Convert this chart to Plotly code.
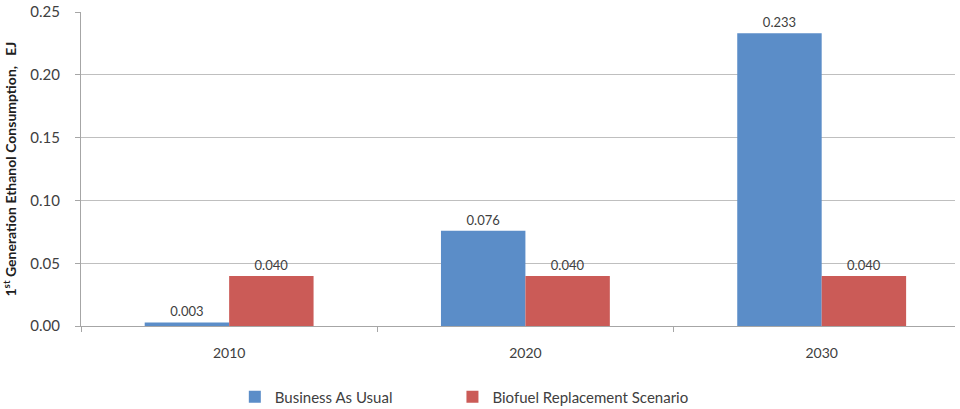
import plotly.graph_objects as go

years = ["2010", "2020", "2030"]
business_as_usual = [0.003, 0.076, 0.233]
biofuel_replacement = [0.040, 0.040, 0.040]
y_ticks = [0.0, 0.05, 0.10, 0.15, 0.20, 0.25]
y_tick_labels = ["0.00", "0.05", "0.10", "0.15", "0.20", "0.25"]

FONT = "Lato"
TEXT = "#404040"

fig = go.Figure()
fig.add_trace(go.Bar(
    name="Business As Usual", x=years, y=business_as_usual,
    marker=dict(color="#5B8DC8", line=dict(width=0)),
    text=[f"{v:.3f}" for v in business_as_usual], textposition="outside",
    textfont=dict(family=FONT, size=13, color=TEXT), cliponaxis=False,
    legend="legend", showlegend=True,
))
fig.add_trace(go.Bar(
    name="Biofuel Replacement Scenario", x=years, y=biofuel_replacement,
    marker=dict(color="#CB5B57", line=dict(width=0)),
    text=[f"{v:.3f}" for v in biofuel_replacement], textposition="outside",
    textfont=dict(family=FONT, size=13, color=TEXT), cliponaxis=False,
    legend="legend2", showlegend=True,
))

# legends are placed against the whole figure, along its bottom edge
legend_style = dict(
    orientation="h", xanchor="left", yref="container", y=12 / 409, yanchor="middle",
    font=dict(family=FONT, size=15, color=TEXT), itemwidth=30,
    bgcolor="rgba(0,0,0,0)", visible=True,
)

fig.update_layout(
    width=960, height=409,
    margin=dict(l=81, r=5, t=12, b=0),
    paper_bgcolor="white", plot_bgcolor="white",
    showlegend=True,
    barmode="group", bargap=0.43, bargroupgap=0,
    font=dict(family=FONT, size=14, color=TEXT),
    legend=dict(x=0.176, **legend_style),
    legend2=dict(x=0.425, **legend_style),
    xaxis=dict(
        type="category", range=[-0.5, 2.45],
        showline=True, linecolor="#a6a6a6", linewidth=1,
        ticks="outside", tickson="boundaries", ticklen=5, tickcolor="#a6a6a6",
        tickfont=dict(family=FONT, size=14, color=TEXT),
        ticklabelstandoff=14,
        showgrid=False, automargin=False,
    ),
    yaxis=dict(
        domain=[0.1285, 1],
        range=[0, 0.25], tickvals=y_ticks, ticktext=y_tick_labels,
        showline=True, linecolor="#a6a6a6", linewidth=1,
        ticks="outside", ticklen=5, tickcolor="#a6a6a6",
        gridcolor="#bfbfbf", gridwidth=1, zeroline=False,
        tickfont=dict(family=FONT, size=15, color=TEXT),
        ticklabelstandoff=12,
        title=dict(
            text="<b>1<sup>st</sup> Generation Ethanol Consumption,&nbsp;&nbsp;&nbsp;EJ</b>",
            font=dict(family=FONT, size=14, color="#202020"), standoff=12,
        ),
    ),
)

fig.write_html("out.html")
